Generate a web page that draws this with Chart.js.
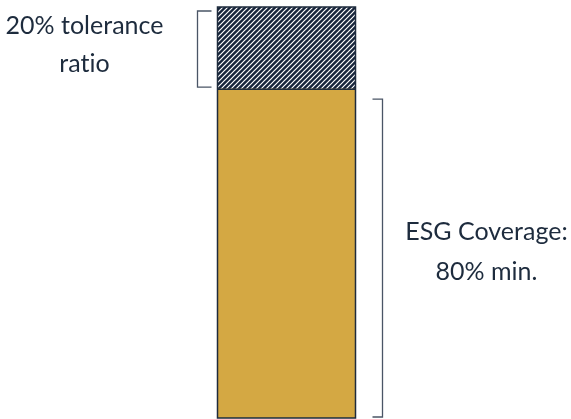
<!DOCTYPE html>
<html>
<head>
<meta charset="utf-8">
<script src="https://cdn.jsdelivr.net/npm/chart.js@4.4.1/dist/chart.umd.min.js"></script>
<style>
  html, body { margin: 0; padding: 0; background: #fff; }
  #wrap { width: 571px; height: 419px; }
</style>
</head>
<body>
<div id="wrap"><canvas id="grafico" width="571" height="419"></canvas></div>
<script>
const categorias = ["ESG"];
const cobertura = [80];
const tolerancia = [20];
const textoTolerancia = ["20% tolerance", "ratio"];
const textoCobertura = ["ESG Coverage:", "80% min."];

const azul = "#16243a";
const dourado = "#d4a843";
const corTexto = "#1d2b3d";

function padraoRiscas() {
  const c = document.createElement("canvas");
  c.width = 5; c.height = 5;
  const g = c.getContext("2d");
  g.fillStyle = azul;
  g.fillRect(0, 0, 5, 5);
  g.strokeStyle = "#ffffff";
  g.lineWidth = 1.2;
  g.beginPath();
  g.moveTo(-1, 6); g.lineTo(6, -1);
  g.moveTo(-1, 1); g.lineTo(1, -1);
  g.moveTo(4, 6); g.lineTo(6, 4);
  g.stroke();
  return g.createPattern(c, "repeat");
}

// chavetas e texto ao lado da barra
const anotacoes = {
  id: "anotacoes",
  afterDatasetsDraw(chart) {
    const ctx = chart.ctx;
    const y = chart.scales.y;
    const barra = chart.getDatasetMeta(0).data[0];
    const esq = barra.x - barra.width / 2;
    const dir = barra.x + barra.width / 2;
    const y100 = y.getPixelForValue(cobertura[0] + tolerancia[0]);
    const y80 = y.getPixelForValue(cobertura[0]);
    const y0 = y.getPixelForValue(0);

    // contorno da barra
    ctx.save();
    ctx.strokeStyle = "#1e2b3c";
    ctx.lineWidth = 1.5;
    ctx.strokeRect(esq, y100, dir - esq, y0 - y100);
    ctx.beginPath();
    ctx.moveTo(esq, y80); ctx.lineTo(dir, y80);
    ctx.stroke();

    ctx.strokeStyle = "#4a5566";
    ctx.lineWidth = 1.3;
    // chaveta esquerda
    ctx.beginPath();
    ctx.moveTo(esq - 6, y100 + 4);
    ctx.lineTo(esq - 20, y100 + 4);
    ctx.lineTo(esq - 20, y80 - 2);
    ctx.lineTo(esq - 6, y80 - 2);
    ctx.stroke();
    // chaveta direita
    ctx.beginPath();
    ctx.moveTo(dir + 17, y80 + 10);
    ctx.lineTo(dir + 27, y80 + 10);
    ctx.lineTo(dir + 27, y0 - 1);
    ctx.lineTo(dir + 17, y0 - 1);
    ctx.stroke();

    ctx.fillStyle = corTexto;
    ctx.font = "25px Lato, 'Open Sans', sans-serif";
    ctx.letterSpacing = "0.01px"; // evita a ligadura "ti" do Lato
    ctx.textAlign = "center";
    ctx.textBaseline = "middle";
    const xt = esq - 133;
    const yt = (y100 + y80) / 2;
    ctx.fillText(textoTolerancia[0], xt, yt - 22);
    ctx.fillText(textoTolerancia[1], xt, yt + 16);
    const xc = dir + 131;
    const yc = (y80 + 10 + y0) / 2;
    ctx.fillText(textoCobertura[0], xc, yc - 27);
    ctx.fillText(textoCobertura[1], xc, yc + 13);
    ctx.restore();
  }
};

new Chart(document.getElementById("grafico"), {
  type: "bar",
  data: {
    labels: categorias,
    datasets: [
      { label: "Cobertura", data: cobertura, backgroundColor: dourado, borderWidth: 0 },
      { label: "Tolerância", data: tolerancia, backgroundColor: padraoRiscas(), borderWidth: 0 }
    ]
  },
  options: {
    responsive: false,
    animation: false,
    maintainAspectRatio: false,
    layout: { padding: { top: 7, bottom: 1, left: 2, right: 0 } },
    datasets: { bar: { barThickness: 138 } },
    plugins: { legend: { display: false }, tooltip: { enabled: false } },
    scales: {
      x: { stacked: true, display: false },
      y: { stacked: true, display: false, min: 0, max: 100 }
    }
  },
  plugins: [anotacoes]
});
</script>
</body>
</html>
